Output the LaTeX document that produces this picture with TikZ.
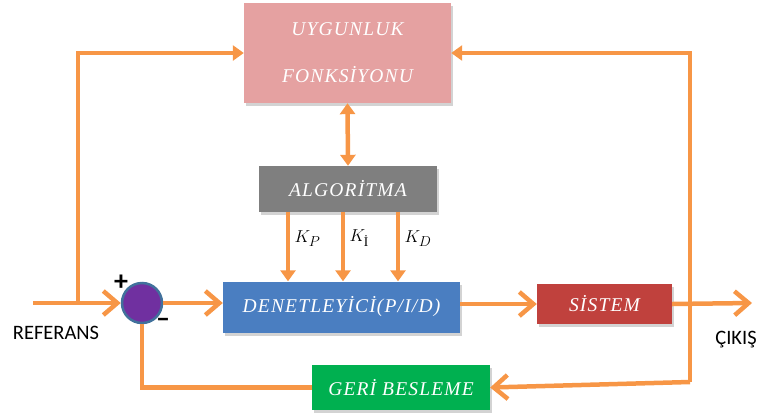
\documentclass[tikz,border=0pt]{standalone}
\usepackage{amsmath}
\usepackage{fontspec}
\setmainfont{Liberation Serif}
\newfontfamily\calfont{Carlito}
\usetikzlibrary{arrows.meta,shadows}
\definecolor{turuncu}{HTML}{F79646}
\definecolor{pembe}{HTML}{E5A1A1}
\definecolor{gri}{HTML}{7F7F7F}
\definecolor{mavi}{HTML}{4A7EC1}
\definecolor{kirmizi}{HTML}{C0413D}
\definecolor{yesil}{HTML}{00B050}
\definecolor{mor}{HTML}{7030A0}
\definecolor{cerceve}{HTML}{41719C}
\begin{document}
\begin{tikzpicture}[x=1pt, y=-1pt,
  kutu/.style={rectangle, inner sep=0pt, text=white,
    font=\fontsize{19.5}{22}\selectfont\itshape\addfontfeature{LetterSpace=6},
    drop shadow={opacity=0.35, shadow xshift=2pt, shadow yshift=-3pt}},
  hat/.style={line width=4.5pt, draw=turuncu},
  ok/.style={-{Straight Barb[length=14pt, width=24pt]}},
  uc/.style={-{Triangle[length=11pt, width=15pt]}},
  yazi/.style={font=\calfont\fontsize{20.5}{24}\selectfont, text=black}]
\useasboundingbox (0,0) rectangle (757,418);
% kutular
\node[kutu, fill=pembe, minimum width=207pt, minimum height=100pt, align=center]
  (uyg) at (347.5,53) {UYGUNLUK\\[25pt]FONKSİYONU};
\node[kutu, fill=gri, minimum width=178pt, minimum height=46pt] (alg) at (348,189) {ALGORİTMA};
\node[kutu, fill=mavi, minimum width=237pt, minimum height=51pt] (den) at (341.5,307) {DENETLEYİCİ(P/I/D)};
\node[kutu, fill=kirmizi, minimum width=135pt, minimum height=40pt] (sis) at (604.5,304) {SİSTEM};
\node[kutu, fill=yesil, minimum width=178pt, minimum height=45pt] (geri) at (401,387.5) {GERİ BESLEME};
% toplama noktasi
\node[circle, minimum size=40pt, inner sep=0pt, fill=mor, draw=cerceve, line width=2.5pt] (top) at (142,303) {};
\node[font=\calfont\bfseries\fontsize{28}{28}\selectfont] (arti) at (121,283) {+};
\node[font=\calfont\bfseries\fontsize{28}{28}\selectfont] (eksi) at (163,323) {–};
% giris ve cikis
\coordinate (ref) at (33,303);
\coordinate (dal) at (78,303);
\coordinate (cik) at (752,303);
\coordinate (sag) at (690,382);
\node[yazi] (reflbl) at (56,333) {REFERANS};
\node[yazi] (ciklbl) at (736,340) {ÇIKIŞ};
% baglantilar
\draw[hat, ok] (ref) -- (top.west);
\draw[hat, uc] (dal) |- (uyg.west);
\draw[hat, ok] (top.east) -- (top.east -| den.west);
\draw[hat, ok] (den.east |- sis.west) -- (sis.west);
\draw[hat, ok] (sis.east) -- (cik);
\draw[hat, uc] (sag) |- (uyg.east);
\draw[hat, ok] (sag) -- (geri.east);
\draw[hat] (geri.west) -| (top.south);
\draw[hat, {Triangle[length=11pt, width=15pt]}-{Triangle[length=11pt, width=15pt]}] (uyg.south) -- (alg.north);
% kazanclar
\foreach \x/\k [count=\i] in {288/P, 343/{\text{İ}}, 398/D} {
  \coordinate (k\i) at (\x,0);
  \draw[hat, uc] (alg.south -| k\i) -- (den.north -| k\i)
    node[pos=0.38, right, xshift=1pt, font=\fontsize{19}{22}\selectfont] {$K_{\k}$};
}
\end{tikzpicture}
\end{document}
